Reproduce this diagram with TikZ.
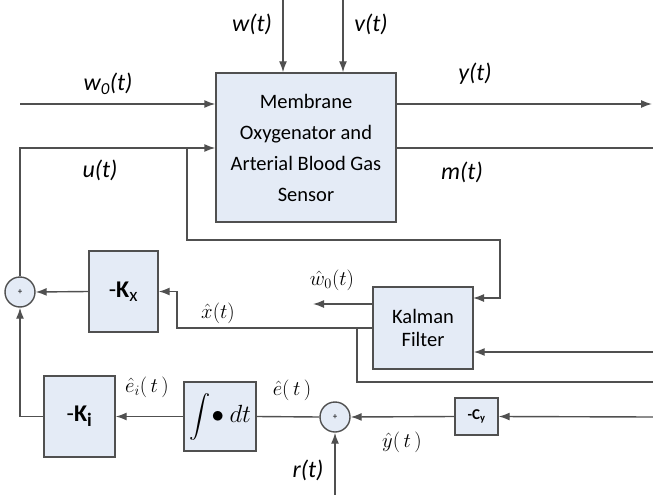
\documentclass[tikz,border=0pt]{standalone}
\usepackage[no-math]{fontspec}
\setmainfont{Carlito}
\usepackage{amsmath}
\usepackage{graphicx}
\usepackage{tikz}
\usetikzlibrary{arrows.meta, positioning}
\usepackage{xcolor}
\definecolor{boxfill}{RGB}{228,235,246}
\definecolor{linegray}{RGB}{80,80,80}
\tikzset{%
	every block/.style={
		rectangle,
		draw=linegray,
		fill=boxfill,
		line width=1.4pt,
		inner sep=0pt
	},
	sumnode/.style={
		circle,
		draw=linegray,
		fill=boxfill,
		line width=1.4pt,
		minimum size=30pt,
		inner sep=0pt,
		font=\fontsize{9}{9}\selectfont
	},
	sig/.style={
		font=\fontsize{24}{26}\selectfont\itshape
	},
	est/.style={
		font=\fontsize{21}{24}\selectfont
	},
	wire/.style={
		draw=linegray,
		line width=1.4pt
	},
	arr/.style={
		wire,
		-{Latex[length=11pt,width=8pt]}
	},
}

\begin{document}
\begin{tikzpicture}[x=1pt,y=-1pt]
			\useasboundingbox (0,0) rectangle (653,495);
			% Draw the blocks
			\node[every block, minimum width=180pt, minimum height=149pt, align=center,
				font=\fontsize{20.5}{31}\selectfont] (plant) at (306,147.5)
				{Membrane\\Oxygenator and\\Arterial Blood Gas\\Sensor};
			\node[every block, minimum width=100pt, minimum height=82pt, align=center,
				font=\fontsize{20.5}{23}\selectfont] (kalman) at (423,328) {Kalman\\Filter};
			\node[every block, minimum width=69pt, minimum height=81pt,
				font=\fontsize{24}{26}\selectfont] (kx) at (123.5,291.5) {-\textbf{K}\textsubscript{\fontsize{19}{19}\selectfont x}};
			\node[every block, minimum width=71pt, minimum height=81pt,
				font=\fontsize{24}{26}\selectfont] (ki) at (79.5,416.5) {-\textbf{K}\textsubscript{\fontsize{19}{19}\selectfont\bfseries i}};
			\node[every block, minimum width=72pt, minimum height=69pt,
				font=\fontsize{27}{30}\selectfont] (integ) at (220,416.5)
				{$\vcenter{\hbox{\scalebox{0.85}{$\displaystyle\int$}}}\!\bullet dt$};
			\node[every block, minimum width=43pt, minimum height=37pt,
				font=\fontsize{15}{16}\selectfont\bfseries] (cy) at (476.5,416.5) {-C\textsubscript{y}};
			
			% Draw the summing points
			\node[sumnode] (sumu) at (20,292) {+};
			\node[sumnode] (sume) at (335,417) {+};
			
			% Free ends and corners
			\coordinate (w0src) at (20,104);
			\coordinate (wsrc) at (283,0);
			\coordinate (vsrc) at (343,0);
			\coordinate (yout) at (652,104);
			\coordinate (mout) at (653,148);
			\coordinate (ucorner) at (20,148);
			\coordinate (ubr) at (187,148);
			\coordinate (kfb) at (500,240);
			\coordinate (kin1) at (473,298);
			\coordinate (kin2) at (653,352);
			\coordinate (w0hat) at (313,304);
			\coordinate (xcorner) at (177,328);
			\coordinate (xbr) at (357,328);
			\coordinate (xout) at (653,382);
			\coordinate (cysrc) at (653,417);
			\coordinate (rsrc) at (335,495);
			
			% Plant inputs and outputs
			\draw[arr] (w0src) -- (w0src -| plant.west);
			\draw[arr] (wsrc) -- (wsrc |- plant.north);
			\draw[arr] (vsrc) -- (vsrc |- plant.north);
			\draw[arr] (yout -| plant.east) -- (yout);
			\draw[wire] (mout -| plant.east) -- (mout);
			\draw[arr] (sumu.north) -- (ucorner) -- (ucorner -| plant.west);
			
			% Kalman filter loop
			\draw[arr] (ubr) |- (kfb) |- (kin1);
			\draw[arr] (kin2) -- (kin2 -| kalman.east);
			\draw[arr] (w0hat -| kalman.west) -- (w0hat);
			\draw[arr] (xcorner -| kalman.west) -- (xcorner) |- (kx.east);
			\draw[wire] (xbr) |- (xout);
			\draw[arr] (kx.west) -- (sumu.east);
			
			% Integral loop
			\draw[arr] (cysrc) -- (cy.east);
			\draw[arr] (cy.west) -- (sume.east);
			\draw[wire] (sume.west) -- (integ.east);
			\draw[arr] (integ.west) -- (ki.east);
			\draw[arr] (ki.west) -| (sumu.south);
			\draw[arr] (rsrc) -- (sume.south);
			
			% Signal labels
			\node[sig] (lw0) at (108,84) {w\textsubscript{0}(t)};
			\node[sig] (lw) at (252,24) {w(t)};
			\node[sig] (lv) at (371,24) {v(t)};
			\node[sig] (ly) at (475,74) {y(t)};
			\node[sig] (lm) at (462,172) {m(t)};
			\node[sig] (lu) at (100,170) {u(t)};
			\node[sig] (lr) at (308,470) {r(t)};
			\node[est] (lw0hat) at (332,280) {$\hat{w}_0(t)$};
			\node[est] (lxhat) at (218,313) {$\hat{x}(t)$};
			\node[est] (leihat) at (147,387) {$\hat{e}_i(\,t\,)$};
			\node[est] (lehat) at (292,390) {$\hat{e}(\,t\,)$};
			\node[est] (lyhat) at (402,442) {$\hat{y}(\,t\,)$};
			
		\end{tikzpicture}
\end{document}
